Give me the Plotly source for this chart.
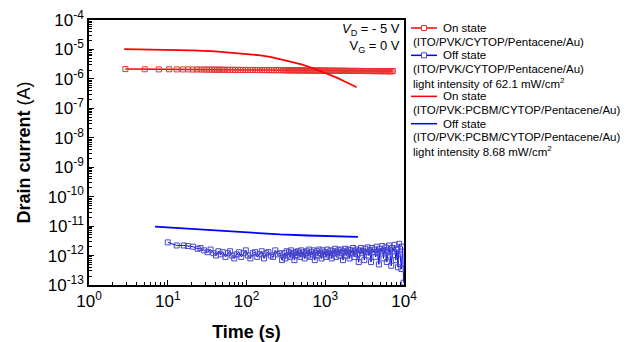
import plotly.graph_objects as go

# Red line (On state, PVK:PCBM device)
t_on2 = [2.8, 5, 10, 20, 40, 70, 110, 150, 200, 290, 400, 500, 700, 1000, 1400, 1800, 2200, 2500]
i_on2 = [1.02e-5, 1.0e-5, 9.8e-6, 9.3e-6, 8.6e-6, 7.8e-6, 6.8e-6, 6.3e-6, 5.6e-6, 4.4e-6,
         3.6e-6, 3.1e-6, 2.3e-6, 1.6e-6, 1.1e-6, 8.0e-7, 6.2e-7, 5.2e-7]

# Blue line (Off state, PVK:PCBM device)
t_off2 = [6.9, 10, 20, 50, 100, 265, 600, 1000, 2600]
i_off2 = [9.6e-12, 9.0e-12, 8.0e-12, 6.8e-12, 6.0e-12, 5.2e-12, 4.8e-12, 4.6e-12, 4.3e-12]

# Red squares (On state, PVK device), values in microamps
t_on1 = [2.9, 5.1, 7.7, 10.4, 13.0, 15.6, 18.2, 20.8, 23.4, 26,
         28.6, 31.2, 33.8, 36.4, 39, 41.6, 44.2, 46.8, 49.4, 52,
         57, 62, 67, 72, 78, 84, 90, 97, 104, 112,
         120, 129, 138, 148, 158, 169, 181, 194, 208, 223,
         239, 256, 274, 293,
         306, 320, 333, 347, 362, 378, 394, 411, 429, 448,
         467, 487, 508, 530, 553, 577, 602, 628, 655, 684,
         713, 744, 776, 810, 845, 882, 920, 960, 1000, 1045,
         1090, 1140, 1190, 1245, 1300, 1360, 1420, 1485, 1550, 1620,
         1690, 1765, 1840, 1920, 2000, 2090, 2180, 2280, 2380, 2490,
         2600, 2710, 2830, 2950, 3080, 3220, 3360, 3510, 3660, 3820,
         3990, 4170, 4350, 4540, 4740, 4950, 5170, 5400, 5630, 5880,
         6140, 6410, 6690, 6950, 7200]
i_on1_uA = [2.15, 2.12, 2.10, 2.12, 2.10, 2.09, 2.10, 2.08, 2.09, 2.08,
            2.07, 2.08, 2.06, 2.07, 2.06, 2.05, 2.06, 2.05, 2.04, 2.05,
            2.04, 2.03, 2.04, 2.02, 2.03, 2.02, 2.01, 2.02, 2.01, 2.00,
            2.01, 2.00, 1.99, 2.00, 1.99, 1.98, 1.99, 1.98, 1.97, 1.98,
            1.97, 1.98, 1.96, 1.97,
            1.97, 1.96, 1.97, 1.95, 1.96, 1.95, 1.95, 1.94, 1.96, 1.94,
            1.95, 1.93, 1.94, 1.93, 1.95, 1.92, 1.93, 1.92, 1.94, 1.92,
            1.93, 1.91, 1.92, 1.91, 1.93, 1.90, 1.91, 1.90, 1.92, 1.90,
            1.91, 1.89, 1.90, 1.89, 1.91, 1.88, 1.89, 1.88, 1.90, 1.88,
            1.88, 1.87, 1.89, 1.87, 1.88, 1.86, 1.87, 1.86, 1.88, 1.86,
            1.86, 1.85, 1.87, 1.85, 1.86, 1.84, 1.85, 1.84, 1.86, 1.84,
            1.84, 1.83, 1.85, 1.83, 1.84, 1.82, 1.83, 1.82, 1.84, 1.82,
            1.82, 1.81, 1.83, 1.81, 1.85]
i_on1 = [v * 1e-6 for v in i_on1_uA]

# Blue squares (Off state, PVK device), values in picoamps
t_off1 = [10, 13, 16, 18, 21, 24, 26, 29, 32, 35,
          38, 41, 44, 47, 50, 54, 58, 62, 66, 70,
          75, 80, 86, 92, 98, 105, 112, 120, 128, 137,
          146, 156, 167, 178, 190, 203, 217, 232, 248, 265,
          283,
          302, 312, 323, 334, 345, 356, 368, 380, 393, 406,
          420, 434, 449, 464, 480, 496, 513, 530, 548, 566,
          585, 605, 625, 646, 668, 690, 713, 737, 762, 788,
          814, 841, 870, 899, 929, 960, 992, 1025, 1060, 1095,
          1130, 1170, 1210, 1250, 1290, 1335, 1380, 1425, 1470, 1520,
          1570, 1625, 1680, 1735, 1790, 1850, 1910, 1975, 2040, 2110,
          2180, 2255, 2330, 2410, 2490, 2575, 2660, 2750, 2840, 2935,
          3030, 3135, 3240, 3350, 3460, 3575, 3690, 3815, 3940, 4075,
          4210, 4350, 4500, 4650, 4800, 4960, 5130, 5300, 5480, 5660,
          5850, 6050, 6250, 6460, 6670, 6900, 7130, 7370, 7620, 7870,
          8130, 8400, 8680, 8970, 9270, 9580, 9900]
i_off1_pA = [2.8, 2.2, 2.2, 2.1, 2.0, 1.7, 1.8, 1.5, 1.3, 1.6,
             1.2, 1.0, 1.4, 1.1, 1.3, 0.9, 1.2, 1.4, 1.0, 0.8,
             1.1, 1.3, 0.9, 1.2, 1.5, 1.0, 0.8, 1.2, 1.3, 0.9,
             1.1, 1.4, 0.8, 1.2, 1.3, 1.0, 0.9, 1.5, 1.1, 1.2,
             0.7,
             1.2, 0.8, 1.4, 1.0, 1.3, 0.9, 1.5, 1.1, 1.2, 0.7,
             1.3, 1.0, 1.4, 1.2, 0.9, 1.5, 1.1, 1.3, 0.8, 1.2,
             1.4, 1.0, 1.6, 0.9, 1.3, 1.1, 1.5, 0.7, 1.2, 1.4,
             1.0, 1.6, 1.2, 0.8, 1.5, 1.1, 1.3, 0.9, 1.6, 1.2,
             1.0, 1.5, 0.8, 1.4, 1.2, 1.7, 0.9, 1.3, 1.5, 1.0,
             1.6, 1.2, 0.7, 1.4, 1.7, 1.0, 1.3, 1.6, 0.8, 1.5,
             1.2, 1.8, 0.9, 1.4, 1.6, 1.1, 0.6, 1.5, 1.8, 1.2,
             1.4, 0.7, 1.7, 1.3, 1.9, 1.0, 1.5, 0.6, 1.8, 1.3,
             1.6, 0.9, 2.0, 1.2, 0.5, 1.7, 1.4, 2.1, 0.8, 1.5,
             1.9, 0.6, 1.3, 2.2, 1.0, 0.45, 1.8, 1.4, 2.3, 0.7,
             1.6, 0.4, 2.5, 1.1, 0.35, 2.0, 0.12]
i_off1 = [v * 1e-12 for v in i_off1_pA]

x_tickvals = [1, 10, 100, 1000, 10000]
x_ticktext = ["10<sup>0</sup>", "10<sup>1</sup>", "10<sup>2</sup>", "10<sup>3</sup>", "10<sup>4</sup>"]
y_exponents = [-13, -12, -11, -10, -9, -8, -7, -6, -5, -4]
y_tickvals = [10.0 ** e for e in y_exponents]
y_ticktext = ["10<sup>%d</sup>" % e for e in y_exponents]

# Legend entries (drawn beside the plot, text flush-left under the sample as in the original)
legend_first = ["On state", "Off state", "On state", "Off state"]
legend_rest = [["(ITO/PVK/CYTOP/Pentacene/Au)"],
               ["(ITO/PVK/CYTOP/Pentacene/Au)", "light intensity of 62.1 mW/cm<sup>2</sup>"],
               ["(ITO/PVK:PCBM/CYTOP/Pentacene/Au)"],
               ["(ITO/PVK:PCBM/CYTOP/Pentacene/Au)", "light intensity 8.68 mW/cm<sup>2</sup>"]]
legend_colors = ["#ff0000", "#0000ff", "#ff0000", "#0000ff"]
legend_marker_colors = ["#e53535", "#4848c8", None, None]

FONT = "Liberation Sans, Arial, sans-serif"
OFF = 8  # page body margin of the browser
W, H = 630 - OFF, 342 - OFF
ML, MT = 89 - OFF, 20 - OFF
MR = W - (404 - OFF)
MB = H - (285 - OFF)
PW, PH = W - ML - MR, H - MT - MB


def px_x(p):
    return (p - OFF - ML) / PW


def px_y(p):
    return 1 - (p - OFF - MT) / PH


fig = go.Figure()

fig.add_trace(go.Scatter(
    x=t_on1, y=i_on1, mode="lines+markers",
    line=dict(color=legend_colors[0], width=1.5),
    marker=dict(symbol="square-open", size=5, color=legend_marker_colors[0], line=dict(width=1)),
    name="On state (ITO/PVK/CYTOP/Pentacene/Au)"))
fig.add_trace(go.Scatter(
    x=t_off1, y=i_off1, mode="lines+markers",
    line=dict(color=legend_colors[1], width=1),
    marker=dict(symbol="square-open", size=5, color=legend_marker_colors[1], line=dict(width=1)),
    name="Off state (ITO/PVK/CYTOP/Pentacene/Au)"))
fig.add_trace(go.Scatter(
    x=t_on2, y=i_on2, mode="lines",
    line=dict(color=legend_colors[2], width=1.8),
    name="On state (ITO/PVK:PCBM/CYTOP/Pentacene/Au)"))
fig.add_trace(go.Scatter(
    x=t_off2, y=i_off2, mode="lines",
    line=dict(color=legend_colors[3], width=1.8),
    name="Off state (ITO/PVK:PCBM/CYTOP/Pentacene/Au)"))

axis_common = dict(
    type="log", showgrid=False, zeroline=False, automargin=False,
    showline=True, linecolor="black", linewidth=1.5, mirror=True,
    ticks="inside", ticklen=5, tickwidth=1, tickcolor="black",
    tickmode="array", ticklabeloverflow="allow",
    tickfont=dict(family=FONT, size=17, color="black"),
    minor=dict(ticks="inside", ticklen=3, tickcolor="black", dtick="D1"),
)

fig.update_xaxes(**axis_common, range=[0, 4], tickvals=x_tickvals, ticktext=x_ticktext,
                 title=dict(text="<b>Time (s)</b>", font=dict(family=FONT, size=18, color="black"), standoff=15))
fig.update_yaxes(**axis_common, range=[-13, -4], tickvals=y_tickvals, ticktext=y_ticktext,
                 title=dict(text="<b>Drain current</b> (A)", font=dict(family=FONT, size=18, color="black"), standoff=12))

fig.add_annotation(xref="paper", yref="paper", x=px_x(402), y=px_y(19), xanchor="right", yanchor="top",
                   showarrow=False, align="right",
                   text="<i>V</i><sub>D</sub> = - 5 V<br>V<sub>G</sub> = 0 V",
                   font=dict(family=FONT, size=13, color="black"))

# Manual legend layout
LINE_H = 13.67
SAMPLE_X0, SAMPLE_X1, TEXT_X = 411, 437, 441
leg_font = dict(family=FONT, size=11.5, color="black")
row = 0
for first, rest, col, mcol in zip(legend_first, legend_rest, legend_colors, legend_marker_colors):
    yc = 28 + row * LINE_H
    fig.add_shape(type="line", xref="paper", yref="paper",
                  x0=px_x(SAMPLE_X0), x1=px_x(SAMPLE_X1), y0=px_y(yc), y1=px_y(yc),
                  line=dict(color=col, width=1.5))
    if mcol is not None:
        cx = (SAMPLE_X0 + SAMPLE_X1) / 2
        fig.add_shape(type="rect", xref="paper", yref="paper",
                      x0=px_x(cx - 2.5), x1=px_x(cx + 2.5), y0=px_y(yc - 2.5), y1=px_y(yc + 2.5),
                      fillcolor="white", line=dict(color=mcol, width=1))
    fig.add_annotation(xref="paper", yref="paper", x=px_x(TEXT_X), y=px_y(yc),
                       xanchor="left", yanchor="middle", showarrow=False,
                       text=first, font=leg_font)
    row += 1
    for ln in rest:
        yc = 28 + row * LINE_H
        fig.add_annotation(xref="paper", yref="paper", x=px_x(SAMPLE_X0), y=px_y(yc),
                           xanchor="left", yanchor="middle", showarrow=False,
                           text=ln, font=leg_font)
        row += 1

fig.update_layout(
    width=W, height=H,
    margin=dict(l=ML, r=MR, t=MT, b=MB, autoexpand=False),
    paper_bgcolor="white", plot_bgcolor="white",
    font=dict(family=FONT, color="black"),
    showlegend=False,
)

fig.write_html("out.html")
